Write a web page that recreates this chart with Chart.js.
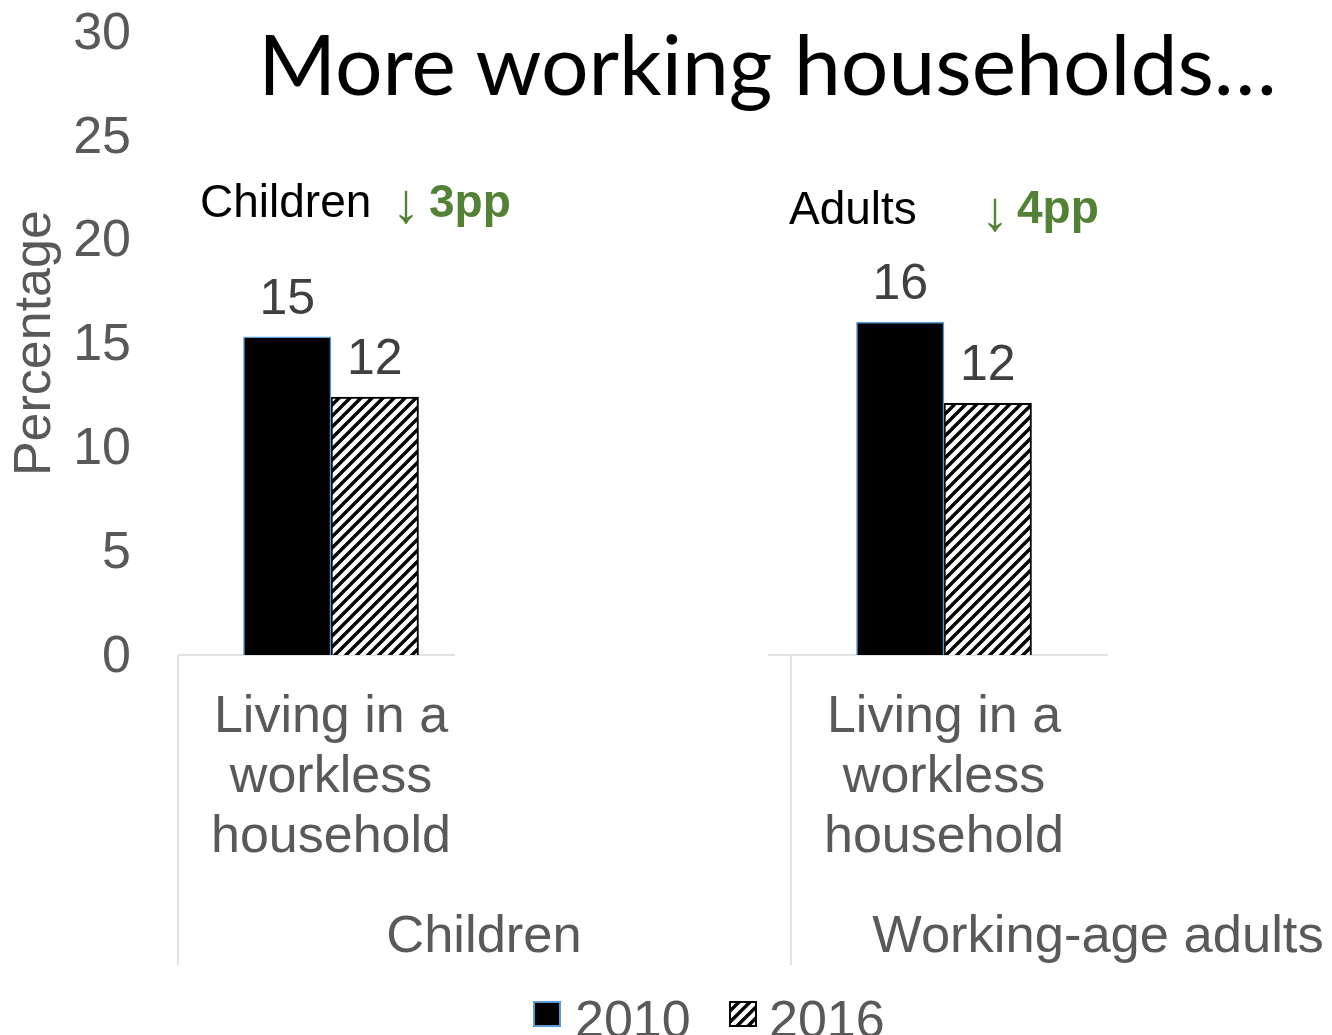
<!DOCTYPE html>
<html>
<head>
<meta charset="utf-8">
<script src="https://cdn.jsdelivr.net/npm/chart.js@4/dist/chart.umd.min.js"></script>
<style>
  body { margin: 0; background: #fff; }
  #page { position: relative; width: 1332px; height: 1035px; overflow: hidden; background: #fff; font-family: "Liberation Sans", Arial, sans-serif; }
  #page canvas { position: absolute; top: 0; }
  .txt { position: absolute; white-space: nowrap; line-height: 1; }
  .green { color: #538135; }
  .gray { color: #595959; }
</style>
</head>
<body>
<div id="page">
  <canvas id="leftChart" width="484" height="1035" style="left:0"></canvas>
  <canvas id="rightChart" width="732" height="1035" style="left:600px"></canvas>

  <div class="txt" id="title" style="left:229px; width:1077px; top:21px; text-align:center; font-family:Lato, sans-serif; font-size:84px; color:#000">More working households…</div>

  <div class="txt" style="left:200px; top:178px; font-size:46px; color:#000">Children</div>
  <div class="txt green" style="left:392px; top:175px; font-size:56px">↓</div>
  <div class="txt green" style="left:429px; top:178px; font-size:46px; font-weight:bold" id="changeChildren"></div>

  <div class="txt" style="left:789px; top:185px; font-size:46px; color:#000">Adults</div>
  <div class="txt green" style="left:981px; top:183px; font-size:56px">↓</div>
  <div class="txt green" style="left:1017px; top:184px; font-size:46px; font-weight:bold" id="changeAdults"></div>

  <div class="txt gray" id="groupA" style="left:384px; width:200px; text-align:center; top:908px; font-size:52.5px"></div>
  <div class="txt gray" id="groupB" style="left:866px; width:464px; text-align:center; top:908px; font-size:52.5px"></div>

  <canvas id="swatch2010" width="28" height="26" style="left:533px; top:1001px"></canvas>
  <div class="txt gray" id="legend2010" style="left:575px; top:993px; font-size:52px"></div>
  <canvas id="swatch2016" width="28" height="26" style="left:729px; top:1001px"></canvas>
  <div class="txt gray" id="legend2016" style="left:769px; top:993px; font-size:52px"></div>
</div>

<script>
// values in percent
const years = ['2010', '2016'];
const groups = ['Children', 'Working-age adults'];
const categoryLines = ['Living in a', 'workless', 'household'];
const children2010 = [15.3];
const children2016 = [12.4];
const adults2010 = [16.0];
const adults2016 = [12.1];
const changes = ['3pp', '4pp'];
const yMin = 0;
const yMax = 30;
const yStep = 5;

const FONT = '"Liberation Sans", Arial, sans-serif';
const GRAY = '#595959';

document.getElementById('changeChildren').textContent = changes[0];
document.getElementById('changeAdults').textContent = changes[1];
document.getElementById('groupA').textContent = groups[0];
document.getElementById('groupB').textContent = groups[1];
document.getElementById('legend2010').textContent = years[0];
document.getElementById('legend2016').textContent = years[1];

// upward diagonal hatch, black on white
function hatch(ctx) {
  const s = 11;
  const c = document.createElement('canvas');
  c.width = c.height = s;
  const g = c.getContext('2d');
  g.fillStyle = '#fff';
  g.fillRect(0, 0, s, s);
  g.strokeStyle = '#000';
  g.lineWidth = 3.4;
  g.beginPath();
  g.moveTo(-s / 2, s / 2); g.lineTo(s / 2, -s / 2);
  g.moveTo(0, s); g.lineTo(s, 0);
  g.moveTo(s / 2, s * 1.5); g.lineTo(s * 1.5, s / 2);
  g.stroke();
  return ctx.createPattern(c, 'repeat');
}

// legend swatches
(function () {
  let g = document.getElementById('swatch2010').getContext('2d');
  g.fillStyle = '#000';
  g.fillRect(0, 0, 28, 26);
  g.strokeStyle = '#5B9BD5';
  g.lineWidth = 2;
  g.strokeRect(1, 1, 26, 24);
  g = document.getElementById('swatch2016').getContext('2d');
  g.fillStyle = hatch(g);
  g.fillRect(0, 0, 28, 26);
  g.strokeStyle = '#000';
  g.lineWidth = 2;
  g.strokeRect(1, 1, 26, 24);
})();

// value above each bar
const barValues = {
  id: 'barValues',
  afterDatasetsDraw(chart) {
    const ctx = chart.ctx;
    ctx.save();
    ctx.font = '50px ' + FONT;
    ctx.fillStyle = '#404040';
    ctx.textAlign = 'center';
    ctx.textBaseline = 'alphabetic';
    chart.data.datasets.forEach((ds, i) => {
      chart.getDatasetMeta(i).data.forEach((bar, j) => {
        ctx.fillText(String(Math.round(ds.data[j])), bar.x, bar.y - 23);
      });
    });
    ctx.restore();
  }
};

// category axis line and the group divider below it
const axisFrame = {
  id: 'axisFrame',
  beforeDatasetsDraw(chart, args, opts) {
    const ctx = chart.ctx;
    const y = chart.chartArea.bottom;
    ctx.save();
    ctx.strokeStyle = '#D9D9D9';
    ctx.lineWidth = 1.5;
    ctx.beginPath();
    ctx.moveTo(opts.lineStart, y);
    ctx.lineTo(opts.lineEnd, y);
    ctx.moveTo(opts.dividerX, y);
    ctx.lineTo(opts.dividerX, opts.dividerBottom);
    ctx.stroke();
    ctx.restore();
  }
};

Chart.defaults.font.family = FONT;
Chart.defaults.color = GRAY;

function makeChart(id, first, second, showY, frame, pad) {
  const ctx = document.getElementById(id).getContext('2d');
  const yScale = {
    display: showY,
    min: yMin,
    max: yMax,
    grid: { display: false, drawTicks: false },
    border: { display: false },
    ticks: {
      stepSize: yStep,
      font: { size: 52 },
      color: GRAY,
      padding: 47,
      labelOffset: 3,
    },
    title: {
      display: true,
      text: 'Percentage',
      font: { size: 52 },
      color: GRAY,
      padding: { top: 4, bottom: 4 },
    },
  };
  if (showY) {
    yScale.afterFit = (scale) => {
      scale.width = 178;
      scale.paddingTop = 0;
      scale.paddingBottom = 0;
    };
  }
  return new Chart(ctx, {
    type: 'bar',
    data: {
      labels: [categoryLines],
      datasets: [
        {
          label: years[0],
          data: first,
          backgroundColor: '#000',
          borderColor: '#5B9BD5',
          borderWidth: 1.5,
          barThickness: 87.5,
        },
        {
          label: years[1],
          data: second,
          backgroundColor: hatch(ctx),
          borderColor: '#000',
          borderWidth: 2,
          barThickness: 87.5,
        },
      ],
    },
    options: {
      responsive: false,
      devicePixelRatio: 1,
      animation: false,
      layout: { padding: pad },
      plugins: {
        legend: { display: false },
        tooltip: { enabled: false },
        axisFrame: frame,
      },
      scales: {
        x: {
          grid: { display: false, drawTicks: false },
          border: { display: false },
          ticks: {
            font: { size: 52, lineHeight: 60 / 52 },
            color: GRAY,
            padding: 33,
            maxRotation: 0,
          },
          afterFit: (scale) => { scale.height = 380; },
        },
        y: yScale,
      },
    },
    plugins: [barValues, axisFrame],
  });
}

makeChart('leftChart', children2010, children2016, true,
  { lineStart: 178, lineEnd: 455, dividerX: 178, dividerBottom: 965 },
  { top: 31.2, left: 0, right: 0, bottom: 0 });

makeChart('rightChart', adults2010, adults2016, false,
  { lineStart: 168, lineEnd: 508, dividerX: 191, dividerBottom: 965 },
  { top: 31.2, left: 168, right: 212, bottom: 0 });
</script>
</body>
</html>
